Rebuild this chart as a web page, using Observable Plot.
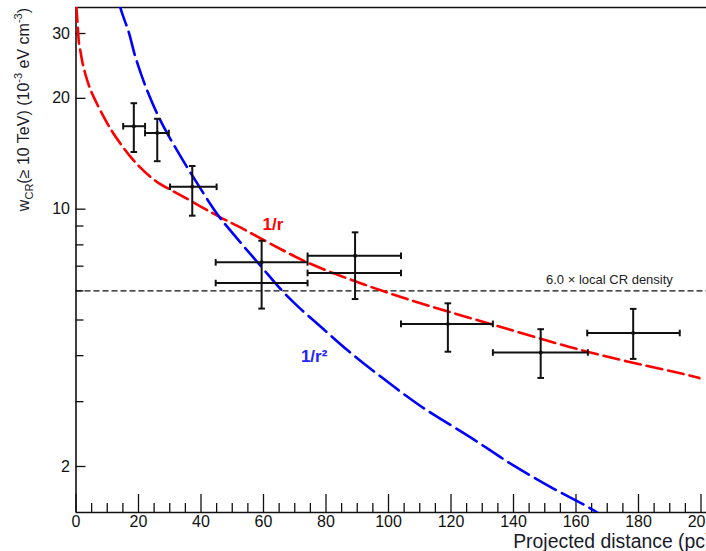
<!DOCTYPE html>
<html>
<head>
<meta charset="utf-8">
<script src="https://cdn.jsdelivr.net/npm/d3@7"></script>
<script src="https://cdn.jsdelivr.net/npm/@observablehq/plot@0.6"></script>
<style>
  body { margin: 0; background: #fff; }
  svg { display: block; }
</style>
</head>
<body>
<div id="chart"></div>
<script>
// Cosmic-ray energy density profile vs projected distance from the Galactic Centre

// Measured annuli (centre, bin edges) and energy density with errors, 10^-3 eV cm^-3
const binCenter = [18.5, 26.0, 37.2, 59.4, 89.3, 119.0, 148.7, 178.3];
const binLow    = [15.1, 22.1, 30.1, 44.7, 74.1, 104.0, 133.4, 163.6];
const binHigh   = [22.1, 29.7, 45.0, 74.1, 104.0, 133.4, 163.8, 193.2];
const wCR       = [16.8, 16.1, 11.5, 7.17, 7.47, 4.88, 4.08, 4.61];
const wCRLow    = [14.3, 13.5, 9.6, 5.37, 5.70, 4.10, 3.48, 3.92];
const wCRHigh   = [19.4, 17.6, 13.1, 8.21, 8.65, 5.55, 4.72, 5.36];

// Second estimate for the two wide annuli (horizontal bars only)
const altCenter = [59.4, 89.3];
const altLow    = [44.7, 74.1];
const altHigh   = [74.1, 104.0];
const altW      = [6.30, 6.71];

// Model profiles, projected: [distance pc, w_CR]
const profileInvR = [
  [0.1, 35.7], [0.32, 33.6], [0.64, 30.6], [0.96, 28.2], [1.44, 26.8], [2.08, 25.0],
  [3.04, 23.2], [4.64, 21.1], [6.24, 19.7], [7.84, 18.5], [11.0, 16.55], [14.2, 15.07],
  [17.4, 13.89], [20.6, 12.97], [23.8, 12.25], [27.0, 11.69], [30.2, 11.30], [33.4, 10.92],
  [36.6, 10.55], [41.4, 10.0], [46.2, 9.50], [52.6, 8.92], [62.2, 8.06], [74.0, 7.17],
  [88.9, 6.39], [106.0, 5.70], [132.6, 4.88], [163.6, 4.10], [196.6, 3.53], [200, 3.47]
];
const profileInvR2 = [
  [14.0, 36.5], [14.24, 35.2], [16.9, 30.2], [19.04, 25.85], [22.78, 20.99], [27.04, 17.40],
  [32.38, 14.42], [38.24, 11.95], [45.18, 9.70], [49.44, 8.74], [59.04, 7.02], [65.44, 6.07],
  [71.84, 5.36], [78.24, 4.80], [87.0, 4.13], [96.38, 3.57], [110.24, 2.92], [126.24, 2.40],
  [140.1, 2.01], [152.9, 1.74], [165.7, 1.52], [168.5, 1.46]
];

// Reference level: multiple of the local CR density
const localLevel = [6.0];
const localLabel = ["6.0 \u00d7 local CR density"];

// Curve labels
const curveLabels = [
  {text: "1/r",  x: 63.0, y: 9.07, color: "#ff0000"},
  {text: "1/r\u00b2", x: 76.2, y: 3.97, color: "#2222ff"}
];

// Axis ticks
const xMajor = [0, 20, 40, 60, 80, 100, 120, 140, 160, 180, 200];
const xMinor = d3.range(0, 201, 5).filter(v => v % 20 !== 0);
const yLabelled = [2, 10, 20, 30];
const yMinor = [3, 4, 5, 6, 7, 8, 9];

const xDomain = [0, 200];
const yDomain = [1.5, 35.3];

const W = 706, H = 551;
const mL = 75.5, mR = 5.5, mT = 7, mB = 39;
const innerW = W - mL - mR, innerH = H - mT - mB;

// Short stroke used for error-bar end caps
const vCap = {draw(ctx, size) { const h = Math.sqrt(size / Math.PI); ctx.moveTo(0, -h); ctx.lineTo(0, h); }};
const hCap = {draw(ctx, size) { const h = Math.sqrt(size / Math.PI); ctx.moveTo(-h, 0); ctx.lineTo(h, 0); }};

const idx = d3.range(binCenter.length);
const alt = d3.range(altCenter.length);
const ink = "#111";

const chart = Plot.plot({
  width: W, height: H,
  marginLeft: mL, marginRight: mR, marginTop: mT, marginBottom: mB,
  style: {fontFamily: "'Liberation Sans', Arial, sans-serif", fontSize: "16px", background: "#fff", color: ink},
  x: {domain: xDomain},
  y: {type: "log", domain: yDomain},
  marks: [
    // frame lines
    Plot.ruleY([yDomain[1]], {y: d => d, stroke: ink, strokeWidth: 1.6, insetRight: -8}),
    Plot.ruleY([yDomain[0]], {y: d => d, stroke: ink, strokeWidth: 1.6, insetRight: -8}),
    Plot.ruleX([xDomain[0]], {x: d => d, stroke: ink, strokeWidth: 1.6}),

    // inward tick marks
    Plot.tickX(xMajor, {x: d => d, stroke: ink, strokeWidth: 1.3, insetTop: innerH - 18}),
    Plot.tickX(xMinor, {x: d => d, stroke: ink, strokeWidth: 1.3, insetTop: innerH - 9}),
    Plot.tickY(yLabelled, {y: d => d, stroke: ink, strokeWidth: 1.3, insetRight: innerW - 10}),
    Plot.tickY(yMinor, {y: d => d, stroke: ink, strokeWidth: 1.3, insetRight: innerW - 8}),

    // tick labels
    Plot.axisX({ticks: xMajor, tickSize: 0, tickPadding: 3, tickFormat: d => String(d), label: null, fontSize: 16, fill: ink}),
    Plot.axisY({ticks: yLabelled, tickSize: 0, tickPadding: 6, tickFormat: d => String(d), label: null, fontSize: 16, fill: ink}),

    // local-density reference level
    Plot.ruleY(localLevel, {y: d => d, stroke: ink, strokeWidth: 1.4, strokeDasharray: "6,3", insetRight: -8}),
    Plot.text(localLabel, {x: 170.7, y: localLevel[0], text: d => d, dy: -11, fontSize: 13, fill: "#222", textAnchor: "middle", letterSpacing: "1px"}),

    // model profiles
    Plot.line(profileInvR, {x: d => d[0], y: d => d[1], stroke: "#ff0000", strokeWidth: 2.6, strokeDasharray: "16,6", curve: "catmull-rom", clip: true}),
    Plot.line(profileInvR2, {x: d => d[0], y: d => d[1], stroke: "#0000ff", strokeWidth: 2.6, strokeDasharray: "24,7", curve: "catmull-rom", clip: true}),
    Plot.text(curveLabels, {x: "x", y: "y", text: "text", fill: "color", fontSize: 17, fontWeight: "bold"}),

    // data: horizontal and vertical error bars
    Plot.ruleY(idx, {y: i => wCR[i], x1: i => binLow[i], x2: i => binHigh[i], stroke: ink, strokeWidth: 2}),
    Plot.ruleY(alt, {y: i => altW[i], x1: i => altLow[i], x2: i => altHigh[i], stroke: ink, strokeWidth: 2}),
    Plot.ruleX(idx, {x: i => binCenter[i], y1: i => wCRLow[i], y2: i => wCRHigh[i], stroke: ink, strokeWidth: 2}),
    Plot.dot(idx, {x: i => binLow[i], y: i => wCR[i], symbol: vCap, r: 3.3, stroke: ink, fill: "none", strokeWidth: 2}),
    Plot.dot(idx, {x: i => binHigh[i], y: i => wCR[i], symbol: vCap, r: 3.3, stroke: ink, fill: "none", strokeWidth: 2}),
    Plot.dot(alt, {x: i => altLow[i], y: i => altW[i], symbol: vCap, r: 3.3, stroke: ink, fill: "none", strokeWidth: 2}),
    Plot.dot(alt, {x: i => altHigh[i], y: i => altW[i], symbol: vCap, r: 3.3, stroke: ink, fill: "none", strokeWidth: 2}),
    Plot.dot(idx, {x: i => binCenter[i], y: i => wCRLow[i], symbol: hCap, r: 3.3, stroke: ink, fill: "none", strokeWidth: 2}),
    Plot.dot(idx, {x: i => binCenter[i], y: i => wCRHigh[i], symbol: hCap, r: 3.3, stroke: ink, fill: "none", strokeWidth: 2}),
    Plot.dot(idx, {x: i => binCenter[i], y: i => wCR[i], r: 2, fill: ink, stroke: "none"})
  ]
});

const svg = d3.select(chart);

// y-axis title with subscript and superscripts
const yTitle = svg.append("text")
  .attr("transform", "translate(29,8) rotate(-90)")
  .attr("text-anchor", "end")
  .attr("font-family", "'Liberation Sans', Arial, sans-serif")
  .attr("font-size", 16)
  .attr("fill", "#1a1a2a");
yTitle.append("tspan").text("w");
yTitle.append("tspan").attr("font-size", 11).attr("dy", 4).text("CR");
yTitle.append("tspan").attr("dy", -4).text("(\u2265 10 TeV) (10");
yTitle.append("tspan").attr("font-size", 11).attr("dy", -7).text("-3");
yTitle.append("tspan").attr("dy", 7).text(" eV cm");
yTitle.append("tspan").attr("font-size", 11).attr("dy", -7).text("-3");
yTitle.append("tspan").attr("dy", 7).text(")");

// x-axis title, right-aligned at the end of the axis
svg.append("text")
  .attr("x", 711.5).attr("y", 548)
  .attr("text-anchor", "end")
  .attr("font-family", "'Liberation Sans', Arial, sans-serif")
  .attr("font-size", 19.4)
  .attr("fill", "#1a1a2a")
  .text("Projected distance (pc)");

document.getElementById("chart").appendChild(chart);
</script>
</body>
</html>
